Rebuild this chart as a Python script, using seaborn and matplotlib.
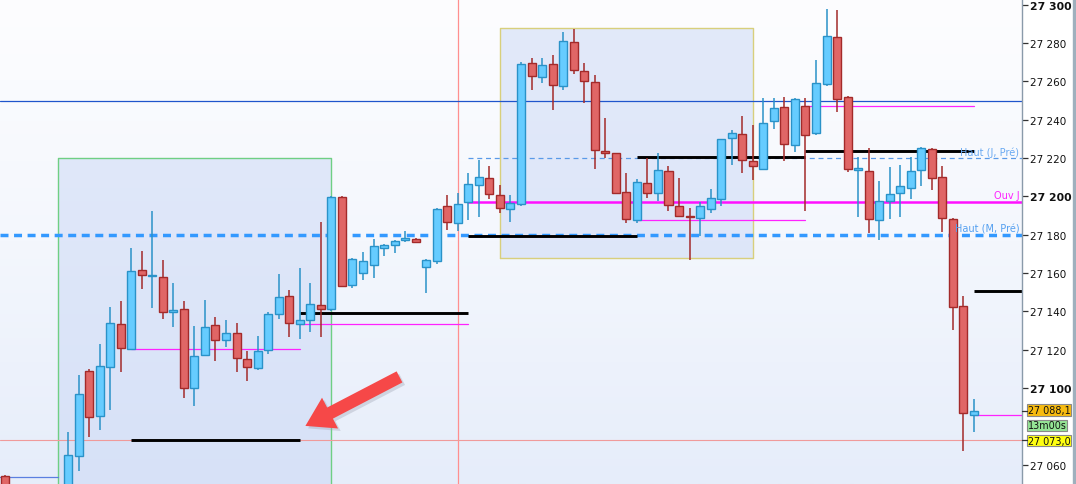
import numpy as np
import matplotlib
matplotlib.use("Agg")
import matplotlib.pyplot as plt
import seaborn as sns
from matplotlib.colors import LinearSegmentedColormap

nan = float("nan")
# ---- candle data (bar index -6 .. 86) ----
positions = list(range(-6, 87))
opens = [27054, nan, nan, nan, nan, nan,
         27045, 27064.5, 27109, 27085.5, 27111, 27133.5, 27120.5, 27161.5, 27158.3, 27158,
         27139.5, 27141, 27100, 27117.5, 27133, 27125, 27128.5, 27115, 27110.5, 27120,
         27138.5, 27148, 27133.5, 27135.5, 27143.5, 27141, 27199.5, 27154, 27160, 27164,
         27173, 27174.5, 27177, 27178, 27163, 27166.5, 27195, 27186, 27197, 27206,
         27209.5, 27200.5, 27193.5, 27196, 27269.5, 27262.5, 27269, 27257.5, 27280.5, 27265.5,
         27259.5, 27223.5, 27222.5, 27202.5, 27187.5, 27207, 27202, 27213.5, 27195, 27190,
         27188.5, 27193.5, 27198.5, 27230.5, 27232.5, 27218.5, 27214.5, 27239.5, 27246.5, 27227,
         27247, 27233, 27258.5, 27283, 27252, 27214, 27213.5, 27187.5, 27197.5, 27202,
         27204.5, 27214, 27224.5, 27210, 27188, 27143, 27086]
highs = [27054.5, nan, nan, nan, nan, nan,
         27077, 27107, 27110, 27123, 27142.5, 27145.5, 27173, 27171.5, 27192.5, 27167,
         27155, 27145.5, 27132.5, 27146, 27137, 27135.5, 27134, 27119.5, 27127, 27139.5,
         27159.5, 27151, 27162.5, 27155, 27186.5, 27200, 27200, 27168, 27171, 27178,
         27175, 27177.5, 27182, 27178.5, 27167.5, 27194, 27200.5, 27202, 27212, 27219,
         27216, 27206, 27200.5, 27270, 27272, 27272, 27274, 27286, 27287.5, 27269.5,
         27263.5, 27241, 27222.8, 27212, 27209, 27220, 27222.5, 27216, 27209.5, 27194,
         27197, 27204, 27230, 27234.5, 27242, 27237.5, 27251.5, 27251.5, 27252, 27251.5,
         27251.5, 27271, 27298, 27297, 27252.5, 27220.5, 27225, 27208, 27215.5, 27216.5,
         27220.5, 27226, 27225.5, 27216, 27188.5, 27148, 27094.5]
lows = [27030, nan, nan, nan, nan, nan,
        27040, 27056.5, 27074.5, 27078, 27088.5, 27108.5, 27120, 27151.5, 27142, 27136,
        27132, 27095, 27090.5, 27117, 27114, 27121.5, 27108.5, 27103.5, 27109.5, 27118,
        27136, 27126.5, 27125.5, 27129.5, 27126.5, 27140, 27153, 27152, 27156.5, 27157.5,
        27169, 27170.5, 27176, 27176, 27149.5, 27164.5, 27182.5, 27182, 27187.5, 27189,
        27198.5, 27191.5, 27186.5, 27195, 27255.5, 27259, 27245, 27255.5, 27264, 27248.5,
        27214.5, 27220, 27201, 27186, 27186, 27199, 27197.5, 27192.5, 27189, 27167,
        27179.5, 27191.5, 27195, 27216.5, 27212, 27208.5, 27214.5, 27235, 27218.5, 27223,
        27192.5, 27232, 27257.5, 27244, 27212.5, 27189.5, 27181, 27177.5, 27188, 27189.5,
        27198.5, 27205.5, 27203.5, 27181.5, 27130.5, 27067, 27077]
closes = [27040, nan, nan, nan, nan, nan,
          27065, 27097, 27085, 27111.5, 27134, 27121, 27161, 27159, 27158.6, 27139.5,
          27140.5, 27100, 27116.5, 27132, 27125, 27128.5, 27115.5, 27111, 27119.5, 27138.5,
          27147.5, 27134, 27135.5, 27144, 27141.5, 27199.5, 27153.5, 27167.5, 27166.5, 27174,
          27174.5, 27176.5, 27178.5, 27176.3, 27167, 27193.5, 27186.5, 27196, 27206.5, 27210,
          27201, 27194, 27196.5, 27269, 27263, 27268.5, 27258, 27281, 27266, 27260,
          27224, 27222.5, 27202, 27188, 27207.5, 27202, 27214, 27195.5, 27190, 27189,
          27195, 27199, 27230, 27233, 27219, 27216, 27238.5, 27246, 27227.5, 27251,
          27232, 27259, 27283.5, 27251, 27214.5, 27214.3, 27188, 27197.5, 27201.5, 27205.5,
          27213, 27225, 27209.5, 27188.5, 27142.5, 27087, 27088.1]

# ---- levels ----
black_levels = [27073, 27139.3, 27179.5, 27220.7, 27223.8, 27150.8]
black_from = [6, 22, 38, 54, 70, 86]
black_to = [22, 38, 54, 70, 86, 91]
pink_levels = [27120.2, 27133.3, 27187.5, 27247, 27086]
pink_from = [6, 22, 54, 70, 86]
pink_to = [22, 38, 70, 86, 91]
level_blue = 27250
level_haut_m = 27180
level_haut_j = 27220
level_ouv_j = 27197.2
level_last_low = 27073
level_left_stub = 27053.5
zone1 = (-0.95, 25.0, 27000, 27220)
zone2 = (41.0, 65.0, 27168, 27288)
vline_at = 37.0
# 27 080 is hidden behind the price boxes in the reference
yticks = [27060, 27100, 27120, 27140, 27160, 27180, 27200, 27220, 27240, 27260, 27280, 27300]
ytick_labels = ["27 060", "27 100", "27 120", "27 140", "27 160", "27 180", "27 200",
                "27 220", "27 240", "27 260", "27 280", "27 300"]
last_price = 27088.1
timer_level = 27080.6
last_price_label = "27 088,1"
timer_label = "13m00s"
low_label = "27 073,0"

sns.set_theme(style="white")
plt.rcParams["font.family"] = ["DejaVu Sans"]

W, H = 1076, 485
fig = plt.figure(figsize=(W / 100, H / 100), dpi=100)
fig.patch.set_facecolor("white")
ax = fig.add_axes([0, 0, 1022 / W, 1])
ax.set_facecolor("none")
xlim = (-6.455, 90.555)
ylim = (27049.97, 27302.97)
ax.set_xlim(*xlim)
ax.set_ylim(*ylim)

# background gradient (light at top, bluish at bottom)
cmap = LinearSegmentedColormap.from_list("bg", ["#fdfdff", "#f4f7fd", "#e6edfa"])
grad = np.linspace(0, 1, 256).reshape(-1, 1)
ax.imshow(grad, cmap=cmap, extent=(xlim[0], xlim[1], ylim[0], ylim[1]), aspect="auto",
          zorder=0, origin="upper")

# zones
for (x0, x1, y0, y1), ec in [(zone1, "#6fcf84"), (zone2, "#d8cf7c")]:
    ax.fill_between([x0, x1], y0, y1, color="#c9d7f6", alpha=0.5, lw=0, zorder=1)
    ax.plot([x0, x0, x1, x1, x0], [y0, y1, y1, y0, y0], color=ec, lw=1.0, zorder=1.1)

# vertical red line
ax.axvline(vline_at, color="#ff8f8f", lw=0.9, zorder=1.2)

# full-width lines
ax.axhline(level_blue, color="#1f55cc", lw=0.9, zorder=2)
ax.axhline(level_last_low, color="#f09a9a", lw=0.8, zorder=2)
ax.axhline(level_haut_m, color="#3399ff", lw=2.5, ls=(0, (2.3, 1.6)), zorder=2)
ax.plot([38, xlim[1]], [level_haut_j, level_haut_j], color="#5a9ae8", lw=0.9,
        ls=(0, (4, 3)), zorder=2)
ax.plot([38, xlim[1]], [level_ouv_j, level_ouv_j], color="#ff10ff", lw=1.8, zorder=2)
ax.plot([xlim[0], -0.95], [level_left_stub, level_left_stub], color="#5b7fe0", lw=0.9, zorder=2)

for lv, a, b in zip(black_levels, black_from, black_to):
    ax.plot([a, b], [lv, lv], color="black", lw=2.1, zorder=2.2, solid_capstyle="butt")
for lv, a, b in zip(pink_levels, pink_from, pink_to):
    ax.plot([a, b], [lv, lv], color="#ff22ff", lw=0.9, zorder=2.1)

# candles
pos = np.array(positions, dtype=float)
o = np.array(opens); h = np.array(highs); l = np.array(lows); c = np.array(closes)
ok = ~np.isnan(o)
up = ok & (c >= o)
dn = ok & (c < o)
for mask, fc, ec in [(up, "#66ccff", "#2a92c8"), (dn, "#e06666", "#a32a2a")]:
    ax.vlines(pos[mask], l[mask], h[mask], color=ec, lw=1.1, zorder=3)
    body = np.maximum(np.abs(c[mask] - o[mask]), 0.9)
    bottom = np.minimum(o[mask], c[mask])
    ax.bar(pos[mask], body, bottom=bottom, width=0.76, color=fc, edgecolor=ec,
           linewidth=1.0, zorder=3.5)

# right-side level labels
ax.text(90.3, level_haut_j + 0.8, "Haut (J, Pré)", color="#6aaaf2", fontsize=7,
        ha="right", va="bottom", zorder=4)
ax.text(90.3, level_ouv_j + 0.9, "Ouv J", color="#ff22ff", fontsize=7,
        ha="right", va="bottom", zorder=4)
ax.text(90.3, level_haut_m + 0.9, "Haut (M, Pré)", color="#55a0f0", fontsize=7,
        ha="right", va="bottom", zorder=4)

# arrow annotation (shadow + arrow)
tail = (31.7, 27106.5)
head = (22.3, 27079.6)
style = "simple,head_length=1.0,head_width=1.25,tail_width=0.45"
ax.annotate("", xy=(head[0] + 0.25, head[1] - 1.3), xytext=(tail[0] + 0.25, tail[1] - 1.3),
            arrowprops=dict(arrowstyle=style, mutation_scale=20, color="#9aa0b0",
                            alpha=0.35, lw=0), zorder=5)
ax.annotate("", xy=head, xytext=tail,
            arrowprops=dict(arrowstyle=style, mutation_scale=20, color="#f64848",
                            lw=0), zorder=5.1)

# y axis on the right
ax.yaxis.tick_right()
ax.set_yticks(yticks)
ax.set_yticklabels(ytick_labels)
ax.tick_params(axis="y", which="both", direction="out", length=4, width=0.9,
               color="#333333", labelsize=7.5, pad=2, labelcolor="#111111", right=True,
               left=False)
for lab, v in zip(ax.get_yticklabels(), yticks):
    if v in (27100, 27200, 27300):
        lab.set_fontweight("bold")
        lab.set_fontsize(7.8)
ax.set_xticks([])
for s in ["left", "top", "bottom"]:
    ax.spines[s].set_visible(False)
ax.spines["right"].set_color("#8a9aaa")
ax.spines["right"].set_linewidth(1.0)

# price boxes on the axis
tr = ax.get_yaxis_transform()
for v, txt, fc in [(last_price + 0.5, last_price_label, "#f7bb10"),
                   (timer_level, timer_label, "#95e495"),
                   (level_last_low - 0.4, low_label, "#ffff10")]:
    ax.text(1.0055, v, txt, transform=tr, fontsize=6.9, color="#111111", ha="left",
            va="center", clip_on=False, zorder=6,
            bbox=dict(boxstyle="square,pad=0.06", fc=fc, ec="#8a8a8a", lw=0.8))
for v in (last_price, level_last_low):
    ax.plot([1.0, 1.0045], [v, v], transform=tr, color="#333333", lw=0.9,
            clip_on=False, zorder=6)

# gray strip at far right
fig.patches.append(plt.Rectangle((1073 / W, 0), 3 / W, 1, transform=fig.transFigure,
                                 color="#9fb0bd", zorder=0))

fig.savefig("out.png", dpi=100)
